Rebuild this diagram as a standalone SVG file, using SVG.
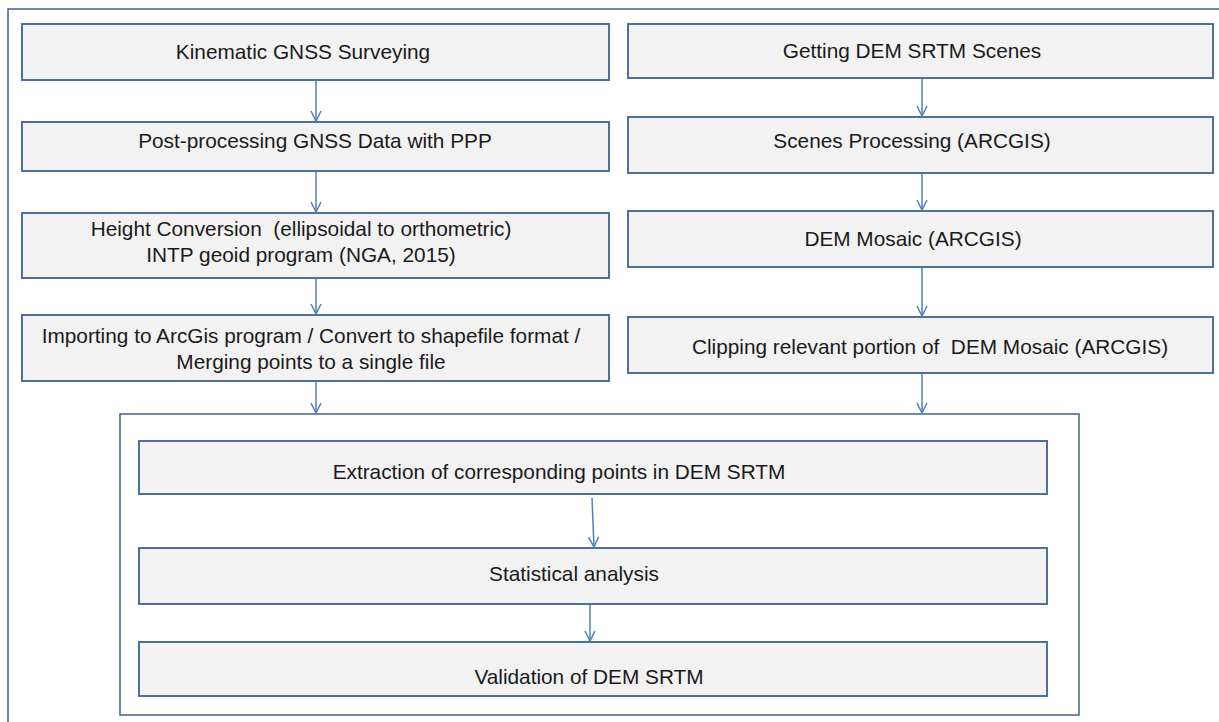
<svg xmlns="http://www.w3.org/2000/svg" width="1219" height="722" viewBox="0 0 1219 722">
<style>
.bg{fill:#ffffff}
.frame{fill:none;stroke:#44628a;stroke-width:1.5}
.box{fill:#f2f2f2;stroke:#4f6f9c;stroke-width:2}
.t{font-family:"Liberation Sans",Arial,sans-serif;font-size:20.8px;fill:#1a1a1a;text-anchor:middle}
.c{fill:none;stroke:#4f81bd;stroke-width:1.5}
</style>
<defs>
<marker id="ah" viewBox="0 0 12 12" refX="11" refY="6" markerWidth="12" markerHeight="12" markerUnits="userSpaceOnUse" orient="auto">
<path d="M1,1 L11,6 L1,11" fill="none" stroke="#4f81bd" stroke-width="1.5"/>
</marker>
</defs>
<rect class="bg" x="0" y="0" width="1219" height="722"/>
<rect class="frame" x="8" y="9" width="1222" height="720"/>
<g id="container"><rect class="frame" x="120" y="414" width="959" height="301" stroke-width="2"/></g>
<g id="n1"><rect class="box" x="22" y="24" width="587" height="56"/><text class="t" x="303" y="59">Kinematic GNSS Surveying</text></g>
<g id="n2"><rect class="box" x="22" y="122" width="587" height="49"/><text class="t" x="315" y="148">Post-processing GNSS Data with PPP</text></g>
<g id="n3"><rect class="box" x="22" y="213" width="587" height="65"/><text class="t" x="301" y="236" xml:space="preserve">Height Conversion  (ellipsoidal to orthometric)</text><text class="t" x="301" y="262">INTP geoid program (NGA,  2015)</text></g>
<g id="n4"><rect class="box" x="22" y="315" width="587" height="66"/><text class="t" x="311" y="343">Importing to ArcGis program / Convert to shapefile format /</text><text class="t" x="311" y="369">Merging points to a single file</text></g>
<g id="r1"><rect class="box" x="628" y="24" width="585" height="54"/><text class="t" x="912" y="58">Getting DEM SRTM Scenes</text></g>
<g id="r2"><rect class="box" x="628" y="117" width="585" height="56"/><text class="t" x="912" y="148">Scenes Processing (ARCGIS)</text></g>
<g id="r3"><rect class="box" x="628" y="211" width="585" height="56"/><text class="t" x="913" y="246">DEM Mosaic (ARCGIS)</text></g>
<g id="r4"><rect class="box" x="628" y="317" width="585" height="56"/><text class="t" x="930" y="354" xml:space="preserve">Clipping relevant portion of  DEM Mosaic (ARCGIS)</text></g>
<g id="i1"><rect class="box" x="139" y="441" width="908" height="53"/><text class="t" x="559" y="479">Extraction of corresponding points in DEM SRTM</text></g>
<g id="i2"><rect class="box" x="139" y="548" width="908" height="56"/><text class="t" x="574" y="581">Statistical analysis</text></g>
<g id="i3"><rect class="box" x="139" y="642" width="908" height="54"/><text class="t" x="589" y="684">Validation of DEM SRTM</text></g>
<g id="connectors">
<line class="c" x1="316" y1="81" x2="316" y2="121" marker-end="url(#ah)"/>
<line class="c" x1="316" y1="172" x2="316" y2="212" marker-end="url(#ah)"/>
<line class="c" x1="316" y1="279" x2="316" y2="314" marker-end="url(#ah)"/>
<line class="c" x1="316" y1="382" x2="316" y2="413" marker-end="url(#ah)"/>
<line class="c" x1="922" y1="79" x2="922" y2="116" marker-end="url(#ah)"/>
<line class="c" x1="922" y1="174" x2="922" y2="210" marker-end="url(#ah)"/>
<line class="c" x1="922" y1="268" x2="922" y2="316" marker-end="url(#ah)"/>
<line class="c" x1="922" y1="374" x2="922" y2="413" marker-end="url(#ah)"/>
<line class="c" x1="592" y1="498" x2="594" y2="547" marker-end="url(#ah)"/>
<line class="c" x1="590" y1="605" x2="590" y2="641" marker-end="url(#ah)"/>
</g>
</svg>
